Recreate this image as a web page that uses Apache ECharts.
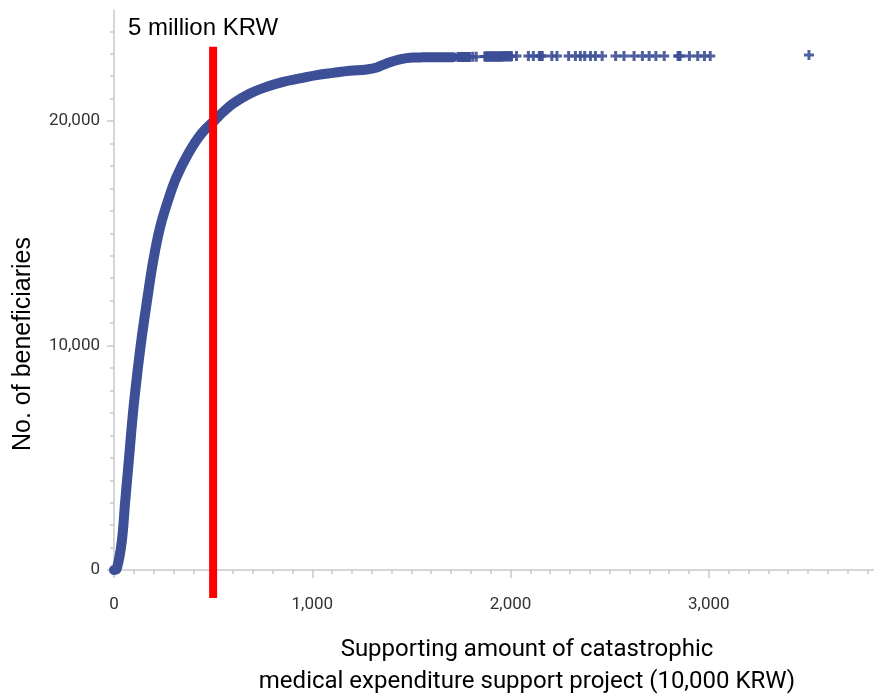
<!DOCTYPE html>
<html>
<head>
<meta charset="utf-8">
<script src="https://cdn.jsdelivr.net/npm/echarts@6/dist/echarts.min.js"></script>
<style>
html,body{margin:0;padding:0;background:#fff;}
#chart{width:874px;height:696px;}
</style>
</head>
<body>
<div id="chart"></div>
<script>
// ---- data ----
// dense part of the cumulative curve (amount in 10,000 KRW, no. of beneficiaries)
const curveAmount = [0, 14, 39, 56, 76, 97, 122, 140, 165, 198, 232, 274, 316, 375, 442, 509, 551, 602, 686, 770, 854, 938, 1022, 1106, 1190, 1274, 1325, 1375, 1442, 1509, 1560, 1609, 1660, 1710];
const curveCount  = [0, 60, 1250, 3000, 5000, 7100, 9100, 10360, 11900, 13780, 15250, 16500, 17520, 18560, 19450, 20045, 20410, 20790, 21230, 21530, 21750, 21900, 22050, 22150, 22240, 22300, 22390, 22570, 22750, 22830, 22840, 22845, 22850, 22850];
// sparse tail (individual '+' markers)
const tailAmount = [1735, 1740, 1745, 1750, 1755, 1760, 1765, 1770, 1775, 1780, 1785, 1790, 1795, 1810, 1827, 1870, 1875, 1880, 1885, 1890, 1895, 1900, 1905, 1910, 1915, 1920, 1925, 1930, 1935, 1940, 1945, 1950, 1955, 1960, 1965, 1970, 1975, 1980, 1985, 1990, 1995, 2000, 2005, 2030, 2090, 2115, 2145, 2150, 2155, 2160, 2208, 2234, 2293, 2327, 2352, 2374, 2403, 2428, 2462, 2530, 2572, 2623, 2665, 2699, 2733, 2775, 2845, 2850, 2855, 2902, 2944, 2978, 3007, 3505];
const tailCount  = [22860, 22860, 22860, 22860, 22860, 22860, 22860, 22860, 22860, 22860, 22860, 22860, 22860, 22870, 22870, 22880, 22880, 22880, 22880, 22880, 22880, 22880, 22880, 22880, 22880, 22880, 22880, 22880, 22880, 22880, 22880, 22880, 22880, 22880, 22890, 22890, 22890, 22890, 22890, 22890, 22890, 22890, 22890, 22900, 22900, 22900, 22900, 22900, 22900, 22900, 22900, 22900, 22900, 22900, 22900, 22900, 22900, 22900, 22900, 22900, 22900, 22900, 22900, 22900, 22900, 22900, 22900, 22900, 22900, 22900, 22900, 22900, 22900, 22940];
// 5 million KRW reference line
const cutoffAmount = 500;
const cutoffSpan = [-1250, 23310];
const cutoffLabel = '5 million KRW';
// ticks
const xMinorTicks = [0,100,200,300,400,500,600,700,800,900,1000,1100,1200,1300,1400,1500,1600,1700,1800,1900,2000,2100,2200,2300,2400,2500,2600,2700,2800,2900,3000,3100,3200,3300,3400,3500,3600,3700,3800];
const xMajorTicks = [0, 1000, 2000, 3000];
const yMinorTicks = [0,1000,2000,3000,4000,5000,6000,7000,8000,9000,10000,11000,12000,13000,14000,15000,16000,17000,18000,19000,20000,21000,22000,23000,24000];
const yMajorTicks = [0, 10000, 20000];
const yTitle = 'No. of beneficiaries';
const xTitle = ['Supporting amount of catastrophic', 'medical expenditure support project (10,000 KRW)'];

// ---- chart ----
const chart = echarts.init(document.getElementById('chart'), null, {renderer: 'canvas'});
const axisColor = '#c6c9cc';
const fmt = v => v.toLocaleString('en-US');
const X_MIN = -15, X_MAX = 3833, Y_MIN = -220, Y_MAX = 24950;
const plusPath = 'path://M3.5,0H6.5V3.5H10V6.5H6.5V10H3.5V6.5H0V3.5H3.5Z';
const blue = '#3c4f97';

const xBase = {type: 'value', min: X_MIN, max: X_MAX, splitLine: {show: false}, position: 'bottom'};
const yBase = {type: 'value', min: Y_MIN, max: Y_MAX, splitLine: {show: false}, position: 'left'};

chart.setOption({
  animation: false,
  backgroundColor: '#fff',
  grid: {left: 111, right: 0, top: 10, bottom: 121, containLabel: false},
  xAxis: [
    Object.assign({}, xBase, {
      axisLine: {show: true, lineStyle: {color: axisColor, width: 1.5}},
      axisTick: {show: true, customValues: xMinorTicks, length: 4, lineStyle: {color: axisColor, width: 1.5}},
      axisLabel: {show: false}
    }),
    Object.assign({}, xBase, {
      axisLine: {show: false},
      axisTick: {show: true, customValues: xMajorTicks, length: 8, lineStyle: {color: axisColor, width: 1.5}},
      axisLabel: {show: true, customValues: xMajorTicks, formatter: fmt, margin: 21, color: '#333', fontFamily: 'Roboto', fontSize: 17}
    })
  ],
  yAxis: [
    Object.assign({}, yBase, {
      axisLine: {show: true, lineStyle: {color: axisColor, width: 1.5}},
      axisTick: {show: true, customValues: yMinorTicks, length: 4, lineStyle: {color: axisColor, width: 1.5}},
      axisLabel: {show: false}
    }),
    Object.assign({}, yBase, {
      axisLine: {show: false},
      axisTick: {show: true, customValues: yMajorTicks, length: 7, lineStyle: {color: axisColor, width: 1.5}},
      axisLabel: {show: true, customValues: yMajorTicks, formatter: fmt, margin: 11, color: '#333', fontFamily: 'Roboto', fontSize: 17}
    })
  ],
  series: [
    {
      type: 'line',
      xAxisIndex: 0, yAxisIndex: 0,
      data: curveAmount.map((a, i) => [a, curveCount[i]]),
      symbol: 'none',
      smooth: 0.4,
      lineStyle: {color: blue, width: 10, cap: 'round', join: 'round'},
      z: 2
    },
    {
      type: 'scatter',
      xAxisIndex: 0, yAxisIndex: 0,
      data: tailAmount.map((a, i) => [a, tailCount[i]]),
      symbol: plusPath,
      symbolSize: 10,
      itemStyle: {color: blue, opacity: 0.9},
      z: 2
    },
    {
      type: 'line',
      xAxisIndex: 0, yAxisIndex: 0,
      data: cutoffSpan.map(c => [cutoffAmount, c]),
      symbol: 'none',
      clip: false,
      lineStyle: {color: '#ff0000', width: 8, cap: 'butt'},
      z: 3
    }
  ],
  graphic: [
    {type: 'text', x: 128, y: 28, style: {text: cutoffLabel, font: '24px "Liberation Sans", Arial, sans-serif', fill: '#000', align: 'left', verticalAlign: 'middle'}},
    {type: 'text', x: 23, y: 344, rotation: Math.PI / 2, style: {text: yTitle, font: '25px "Liberation Sans", Arial, sans-serif', fill: '#000', align: 'center', verticalAlign: 'middle'}},
    {type: 'text', x: 527, y: 650, style: {text: xTitle[0], font: '24px Roboto, sans-serif', fill: '#000', align: 'center', verticalAlign: 'middle'}},
    {type: 'text', x: 527, y: 682, style: {text: xTitle[1], font: '24px Roboto, sans-serif', fill: '#000', align: 'center', verticalAlign: 'middle'}}
  ]
});
</script>
</body>
</html>
